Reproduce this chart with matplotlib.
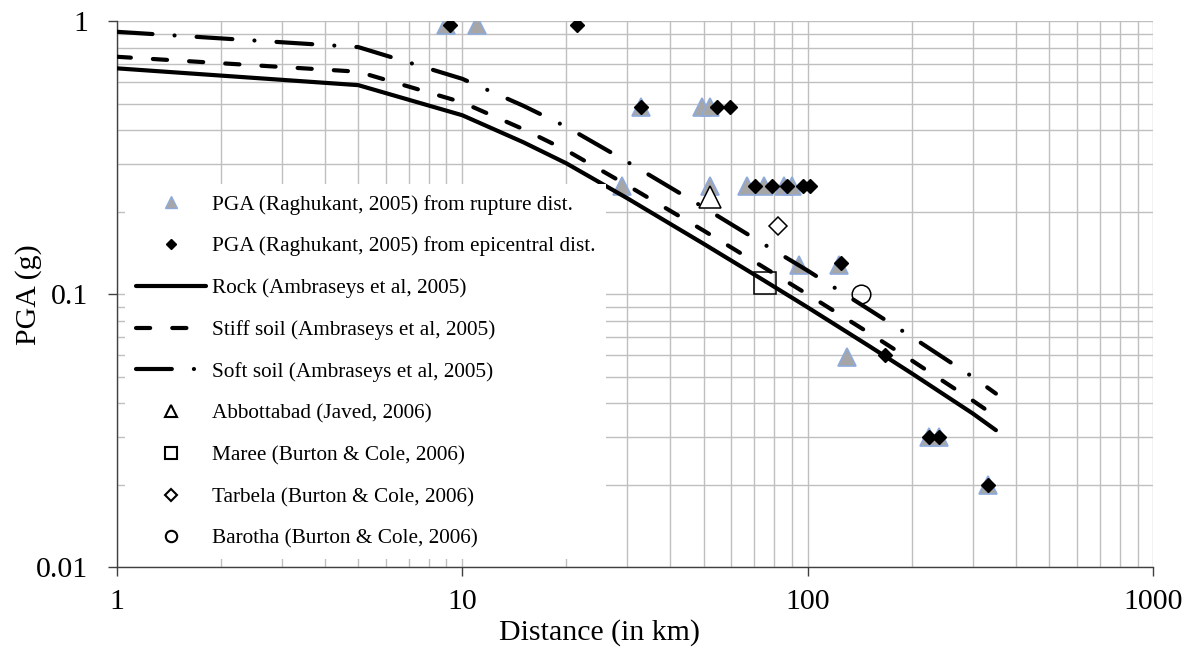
import matplotlib.pyplot as plt
from matplotlib.lines import Line2D
from matplotlib.ticker import FixedLocator, FixedFormatter, LogLocator, NullFormatter

plt.rcParams['font.family'] = ['Liberation Serif', 'DejaVu Serif']

# Ambraseys et al (2005) curves
dist = [1, 5, 10, 15, 20, 30, 50, 75, 100, 150, 200, 300, 350]
rock = [0.673, 0.584, 0.453, 0.361, 0.302, 0.225, 0.153, 0.112, 0.0895, 0.0648, 0.0513, 0.0366, 0.0318]
stiff = [0.742, 0.654, 0.505, 0.403, 0.337, 0.251, 0.171, 0.125, 0.0998, 0.0723, 0.0572, 0.0408, 0.0357]
soft = [0.916, 0.805, 0.616, 0.491, 0.411, 0.306, 0.208, 0.152, 0.122, 0.0881, 0.0698, 0.0498, 0.0433]

# Raghukant (2005) PGA, plotted against rupture distance
rup_dist = [9.0, 11.0, 33, 49.4, 52, 29, 52, 66.6, 74.5, 85.5, 90, 94, 123, 130, 224, 240, 333]
rup_pga = [0.97, 0.97, 0.486, 0.486, 0.486, 0.25, 0.25, 0.25, 0.25, 0.25, 0.25, 0.128, 0.128, 0.059, 0.03, 0.03, 0.02]

# same records against epicentral distance
epi_dist = [9.2, 21.5, 33, 54.7, 59.7, 70.5, 78.8, 87, 97, 101.5, 125, 167, 224, 240, 333]
epi_pga = [0.97, 0.97, 0.486, 0.486, 0.486, 0.25, 0.25, 0.25, 0.25, 0.25, 0.13, 0.06, 0.03, 0.03, 0.02]

# single stations
abbottabad_dist, abbottabad_pga = [52], [0.228]
maree_dist, maree_pga = [75], [0.11]
tarbela_dist, tarbela_pga = [82], [0.178]
barotha_dist, barotha_pga = [142], [0.1]

fig = plt.figure(figsize=(11.91, 6.48), dpi=100)
ax = fig.add_axes([0.098, 0.1245, 0.8705, 0.8425])

tri_face = '#A6A6A6'
tri_edge = '#8EAADB'

ax.plot(rup_dist, rup_pga, linestyle='none', marker='^', ms=13, mfc=tri_face, mec=tri_edge, mew=1.2, zorder=3)
ax.plot(epi_dist, epi_pga, linestyle='none', marker='D', ms=6.8, mfc='black', mec='black', zorder=4)

ax.plot(dist, rock, color='black', lw=3, solid_capstyle='round', zorder=5)
ax.plot(dist, stiff, color='black', lw=3, dashes=[3.4, 5.3], dash_capstyle='round', zorder=5)
ax.plot(dist, soft, color='black', lw=3, dashes=[8.6, 5.3, 0.01, 5.3], dash_capstyle='round', zorder=5)

ax.plot(abbottabad_dist, abbottabad_pga, linestyle='none', marker='^', ms=16, mfc='white', mec='black', mew=1.1, zorder=6)
ax.plot(maree_dist, maree_pga, linestyle='none', marker='s', ms=15.5, mfc='none', mec='black', mew=1.1, zorder=6)
ax.plot(tarbela_dist, tarbela_pga, linestyle='none', marker='D', ms=9.6, mfc='white', mec='black', mew=1.1, zorder=6)
ax.plot(barotha_dist, barotha_pga, linestyle='none', marker='o', ms=13.4, mfc='none', mec='black', mew=1.1, zorder=6)

ax.set_xscale('log')
ax.set_yscale('log')
ax.set_xlim(1, 1000)
ax.set_ylim(0.01, 1)

ax.xaxis.set_major_locator(FixedLocator([1, 10, 100, 1000]))
ax.xaxis.set_major_formatter(FixedFormatter(['1', '10', '100', '1000']))
ax.yaxis.set_major_locator(FixedLocator([0.01, 0.1, 1]))
ax.yaxis.set_major_formatter(FixedFormatter(['0.01', '0.1', '1']))
ax.xaxis.set_minor_locator(LogLocator(base=10, subs=range(2, 10)))
ax.yaxis.set_minor_locator(LogLocator(base=10, subs=range(2, 10)))
ax.xaxis.set_minor_formatter(NullFormatter())
ax.yaxis.set_minor_formatter(NullFormatter())

ax.grid(True, which='both', color='#BFBFBF', lw=1.0, zorder=0)
ax.set_axisbelow(True)
ax.tick_params(which='major', direction='out', length=6.5, width=1, color='#404040', labelsize=21.5)
ax.tick_params(axis='x', which='major', pad=9)
ax.tick_params(axis='y', which='major', pad=14)
ax.tick_params(which='minor', length=0)

for side in ['top', 'right']:
    ax.spines[side].set_visible(False)
for side in ['left', 'bottom']:
    ax.spines[side].set_color('#404040')
    ax.spines[side].set_linewidth(1)

ax.set_xlabel('Distance (in km)', fontsize=21.5)
ax.xaxis.set_label_coords(0.466, -0.095)
ax.set_ylabel('PGA (g)', fontsize=21.5)
ax.yaxis.set_label_coords(-0.072, 0.5)

handles = [
    Line2D([], [], linestyle='none', marker='^', ms=8.5, mfc=tri_face, mec=tri_edge, mew=1),
    Line2D([], [], linestyle='none', marker='D', ms=5, mfc='black', mec='black'),
    Line2D([], [], color='black', lw=3, solid_capstyle='round'),
    Line2D([], [], color='black', lw=3, dashes=[3.4, 5.3], dash_capstyle='round'),
    Line2D([], [], color='black', lw=3, dashes=[8.6, 5.3, 0.01, 5.3], dash_capstyle='round'),
    Line2D([], [], linestyle='none', marker='^', ms=8, mfc='white', mec='black', mew=1.5),
    Line2D([], [], linestyle='none', marker='s', ms=8.2, mfc='white', mec='black', mew=1.5),
    Line2D([], [], linestyle='none', marker='D', ms=6, mfc='white', mec='black', mew=1.5),
    Line2D([], [], linestyle='none', marker='o', ms=8.2, mfc='white', mec='black', mew=1.5),
]
labels = [
    'PGA (Raghukant, 2005) from rupture dist.',
    'PGA (Raghukant, 2005) from epicentral dist.',
    'Rock (Ambraseys et al, 2005)',
    'Stiff soil (Ambraseys et al, 2005)',
    'Soft soil (Ambraseys et al, 2005)',
    'Abbottabad (Javed, 2006)',
    'Maree (Burton & Cole, 2006)',
    'Tarbela (Burton & Cole, 2006)',
    'Barotha (Burton & Cole, 2006)',
]
leg = ax.legend(handles, labels, loc='upper left', bbox_to_anchor=(0.008, 0.702),
                fontsize=15.3, frameon=True, fancybox=False, framealpha=1,
                facecolor='white', edgecolor='none', borderpad=0.5,
                handlelength=3.3, handletextpad=0.3, labelspacing=1.03,
                borderaxespad=0)
leg.set_zorder(10)

fig.savefig('out.png', dpi=100)
